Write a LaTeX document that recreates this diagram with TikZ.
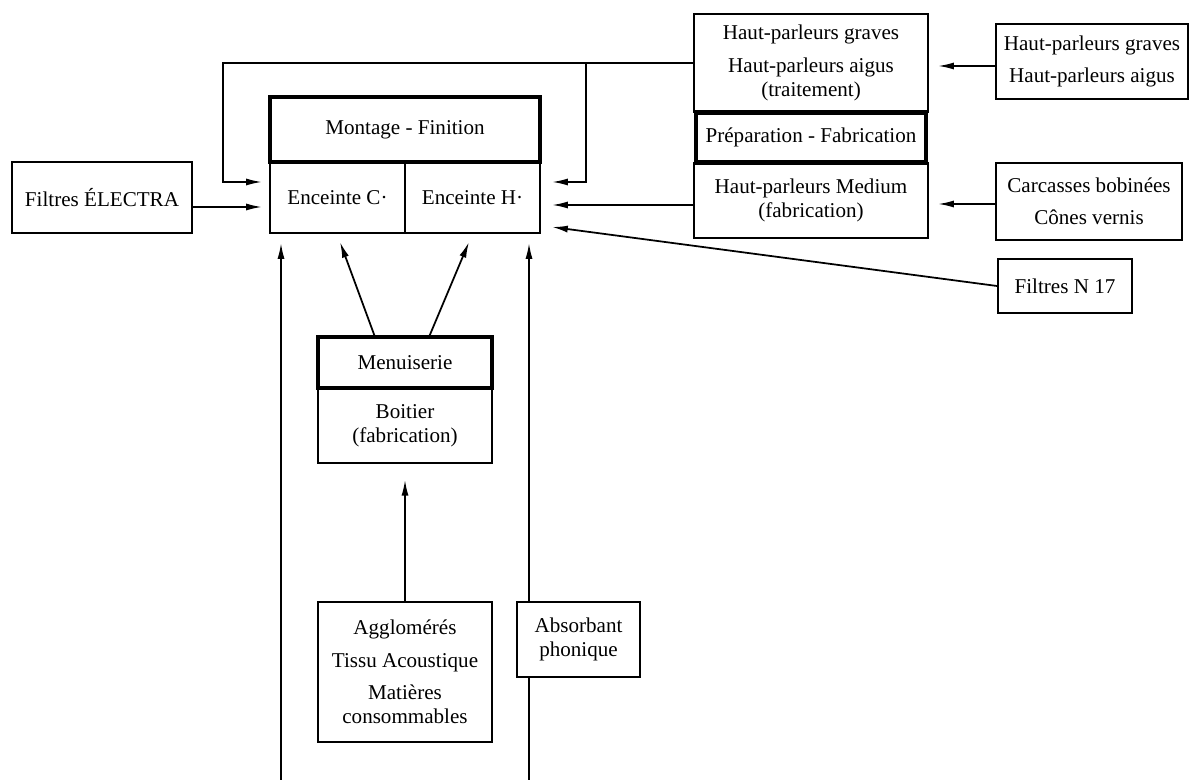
\documentclass[tikz,border=0pt]{standalone}
\usepackage{fontspec}
\setmainfont{Liberation Serif}
\usetikzlibrary{arrows.meta}
\begin{document}
\begin{tikzpicture}[x=0.02cm,y=-0.02cm,
  every node/.style={font=\fontsize{12}{13.5}\selectfont},
  box/.style={draw,line width=1.1pt,rectangle,align=center,inner sep=0pt},
  heavybox/.style={box,line width=2.4pt},
  link/.style={line width=1pt},
  arr/.style={link,-{Latex[length=9pt,width=4pt]}}]
\useasboundingbox (0,0) rectangle (1193,780);

% left input
\node[box,minimum width=3.6cm,minimum height=1.42cm] (electra) at (102,197.5) {Filtres ÉLECTRA};

% assembly block
\node[box,minimum width=2.7cm,minimum height=1.42cm] (encC) at (337.5,197.5) {Enceinte C·};
\node[box,minimum width=2.7cm,minimum height=1.42cm] (encH) at (472.5,197.5) {Enceinte H·};
\node[heavybox,minimum width=5.4cm,minimum height=1.3cm] (montage) at (405,129.5) {Montage - Finition};

% loudspeaker block
\node[box,minimum width=4.68cm,minimum height=1.96cm] (hpTop) at (811,63)
  {Haut-parleurs graves\\[5pt]Haut-parleurs aigus\\(traitement)};
\node[box,minimum width=4.68cm,minimum height=1.5cm] (hpMed) at (811,200.5)
  {Haut-parleurs Medium\\(fabrication)};
\node[heavybox,minimum width=4.6cm,minimum height=1.0cm] (prep) at (811,137.5) {Préparation - Fabrication};

% right inputs
\node[box,minimum width=3.84cm,minimum height=1.5cm] (hpIn) at (1092,61.5)
  {Haut-parleurs graves\\[5pt]Haut-parleurs aigus};
\node[box,minimum width=3.72cm,minimum height=1.54cm] (carc) at (1089,201.5)
  {Carcasses bobinées\\[5pt]Cônes vernis};
\node[box,minimum width=2.68cm,minimum height=1.08cm] (n17) at (1065,286) {Filtres N 17};

% cabinet block
\node[box,minimum width=3.48cm,minimum height=1.5cm] (boitier) at (405,425.5)
  {Boitier\\(fabrication)};
\node[heavybox,minimum width=3.48cm,minimum height=1.02cm] (menu) at (405,362.5) {Menuiserie};

% bottom inputs
\node[box,minimum width=3.48cm,minimum height=2.8cm] (agglo) at (405,672)
  {Agglomérés\\[5pt]Tissu Acoustique\\[5pt]Matières\\consommables};
\node[box,minimum width=2.46cm,minimum height=1.5cm] (absorb) at (578.5,639.5)
  {Absorbant\\phonique};

% arrow tips and bends
\coordinate (inL1) at (262,182);
\coordinate (inL2) at (262,207);
\coordinate (inR1) at (552,182);
\coordinate (inR2) at (552,205);
\coordinate (inR3) at (552,227);
\coordinate (bendL) at (223,63);
\coordinate (bendR) at (586,63);
\coordinate (hpTip1) at (938,66);
\coordinate (hpTip2) at (938,204);
\coordinate (upL) at (281,243);
\coordinate (upR) at (529,243);
\coordinate (footL) at (281,780);
\coordinate (footR) at (529,780);
\coordinate (upC) at (340,242);
\coordinate (upH) at (469,242);
\coordinate (menuL) at (375,337);
\coordinate (menuR) at (429,337);

% feedback loop from the loudspeaker block
\draw[arr] (hpTop.west) -- (bendL) -- (bendL |- inL1) -- (inL1);
\draw[arr] (bendR) -- (bendR |- inR1) -- (inR1);

% horizontal feeds
\draw[arr] (electra.east |- inL2) -- (inL2);
\draw[arr] (hpMed.west |- inR2) -- (inR2);
\draw[arr] (n17.west) -- (inR3);
\draw[arr] (hpIn.west |- hpTip1) -- (hpTip1);
\draw[arr] (carc.west |- hpTip2) -- (hpTip2);

% vertical feeds
\draw[arr] (footL) -- (upL);
\draw[arr] (absorb.north -| upR) -- (upR);
\draw[link] (footR) -- (absorb.south -| footR);
\draw[arr] (menuL) -- (upC);
\draw[arr] (menuR) -- (upH);
\draw[arr,shorten >=9pt] (agglo.north) -- (boitier.south);
\end{tikzpicture}
\end{document}
